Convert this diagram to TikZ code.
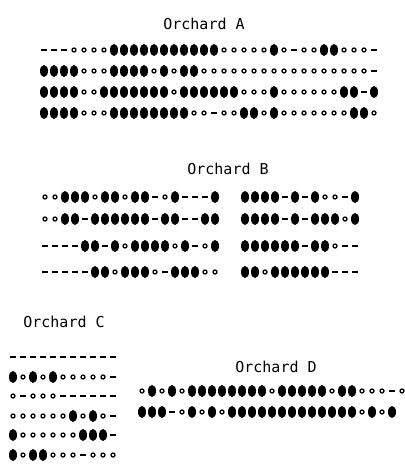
\documentclass[tikz,border=0pt]{standalone}
\usepackage{fontspec}
\setmonofont{DejaVu Sans Mono}
% one row of marks: F = tree, o = missing tree, - = empty site, . = gap
\newcount\treeidx
\def\treepitch{10}
\newcommand{\treerow}[3]{\treeidx=0 \def\rowx{#1}\def\rowy{#2}\treestep#3\relax}
\def\treestep#1{\ifx#1\relax\else\treemark#1\advance\treeidx by 1 \expandafter\treestep\fi}
\def\treemark#1{%
  \if#1F\fill (\rowx+\the\treeidx*\treepitch,\rowy) ellipse (4 and 6);\fi
  \if#1o\draw[line width=1.3pt] (\rowx+\the\treeidx*\treepitch,\rowy) circle (2);\fi
  \if#1-\draw[line width=1.5pt] (\rowx+\the\treeidx*\treepitch-3,\rowy) -- ++(6,0);\fi}
\tikzset{title/.style={font=\ttfamily\fontsize{15}{15}\selectfont, inner sep=0pt}}
\begin{document}
\begin{tikzpicture}[x=1pt, y=-1pt]
  \useasboundingbox (0,0) rectangle (404,465);
  % Orchard A
  \node[title] (titleA) at (204,24) {Orchard A};
  \treerow{44}{50}{---ooooFFFFFFFFFFFoooooFo-ooFFooo-}
  \treerow{44}{71}{FFFFoooFFFFoFoFFooooooooooooooooo-}
  \treerow{44}{92}{FFFFooFFFFFFFoFFFFFFoooFooooooFF-F}
  \treerow{44}{113}{FFFFoooFFFFFFFFoo-ooFFoFoooooooFFo}
  % Orchard B
  \node[title] (titleB) at (228,169) {Orchard B};
  \treerow{45}{197}{ooFFFoFFoFF-oF---F..FFFF-F-Foo-F}
  \treerow{45}{219}{ooFF-FFFFFF-FF--FF..FFFF-F-FFFoF}
  \treerow{45}{246}{----FF-FoFFFFoF-oF..FFFFFF-FFo--}
  \treerow{45}{272}{-----FFoFFFo-FFFoo..FFoFFFFFF---}
  % Orchard C
  \node[title] (titleC) at (64,322) {Orchard C};
  \treerow{13}{357}{-----------}
  \treerow{13}{377}{FoFoFooooo-}
  \treerow{13}{396}{o-ooo------}
  \treerow{13}{416}{ooooooFoFo-}
  \treerow{13}{435}{FooooooFFF-}
  \treerow{13}{455}{FoFFooo-ooo}
  % Orchard D
  \node[title] (titleD) at (276,367) {Orchard D};
  \treerow{142}{391}{oFoFoFFFFFFFFoFFFFFoFFooo-o}
  \treerow{142}{412}{FFF-oFoFoFFFFFFFFFFFFFoFoF}
\end{tikzpicture}
\end{document}
